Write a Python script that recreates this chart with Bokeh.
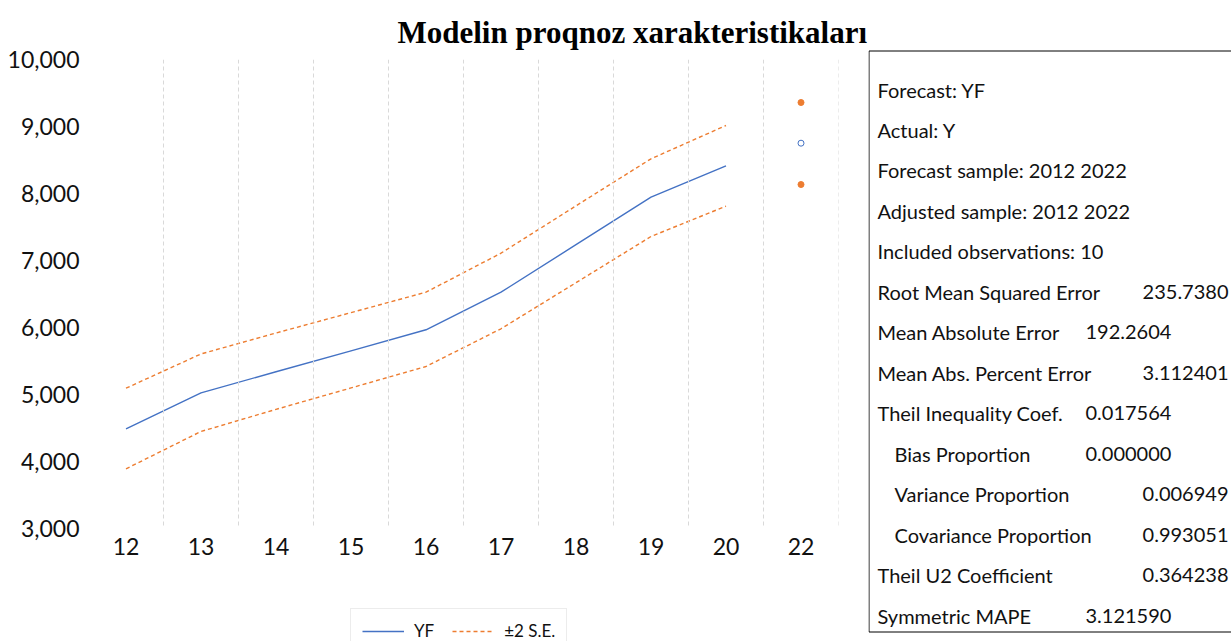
from bokeh.plotting import figure
from bokeh.layouts import row, column
from bokeh.models import (Span, Legend, LegendItem, FixedTicker,
                          NumeralTickFormatter, FactorRange, Range1d, ColumnDataSource)
from bokeh.core.properties import value
from bokeh.embed import file_html
from bokeh.resources import INLINE

# ---- data ----
categories = ["12", "13", "14", "15", "16", "17", "18", "19", "20", "22"]
line_cats = ["12", "13", "14", "15", "16", "17", "18", "19", "20"]
yf = [4488, 5025, 5339, 5652, 5966, 6527, 7236, 7945, 8413]
upper = [5094, 5605, 5918, 6222, 6527, 7109, 7816, 8518, 9015]
lower = [3891, 4448, 4778, 5098, 5418, 5981, 6669, 7358, 7811]
point_cat = ["22"]
point_yf = [8751]
point_upper = [9358]
point_lower = [8134]
y_ticks = [3000, 4000, 5000, 6000, 7000, 8000, 9000, 10000]

title_text = "Modelin proqnoz xarakteristikaları"
legend_labels = ["YF", "±2 S.E."]
stat_labels = [
    "Forecast: YF",
    "Actual: Y",
    "Forecast sample: 2012 2022",
    "Adjusted sample: 2012 2022",
    "Included observations: 10",
    "Root Mean Squared Error",
    "Mean Absolute Error",
    "Mean Abs. Percent Error",
    "Theil Inequality Coef.",
    "Bias Proportion",
    "Variance Proportion",
    "Covariance Proportion",
    "Theil U2 Coefficient",
    "Symmetric MAPE",
]
stat_values = ["", "", "", "", "", "235.7380", "192.2604", "3.112401", "0.017564",
               "0.000000", "0.006949", "0.993051", "0.364238", "3.121590"]

# ---- layout (positions, not data) ----
stat_indent = [0, 0, 0, 0, 0, 0, 0, 0, 0, 1, 1, 1, 0, 0]
stat_value_col = [0, 0, 0, 0, 0, 1, 0, 1, 0, 0, 1, 1, 1, 0]

BLUE = "#4472C4"
ORANGE = "#ED7D31"
FONT = "Lato"
TXT = "#111111"
NAN = float("nan")

TOTAL_W, H = 1231, 641
MAIN_W = 868
MAIN_H = 605
L, T, FW, FH = 88, 59, 750, 469


def bare(fig):
    fig.outline_line_color = None
    fig.xgrid.grid_line_color = None
    fig.ygrid.grid_line_color = None
    fig.frame_align = False


p = figure(width=MAIN_W, height=MAIN_H,
           x_range=FactorRange(*categories, range_padding=0),
           y_range=Range1d(3000, 10000),
           output_backend="svg", toolbar_location=None,
           min_border_left=L, min_border_right=MAIN_W - L - FW,
           min_border_top=T, min_border_bottom=MAIN_H - T - FH)
bare(p)

p.title.text = title_text
p.title.text_font = "Liberation Serif"
p.title.text_font_style = "bold"
p.title.text_font_size = "31px"
p.title.text_color = "#000000"
p.title.align = "left"
p.title.offset = 397 - L
p.title.standoff = 20

for ax in (p.xaxis[0], p.yaxis[0]):
    ax.axis_line_color = None
    ax.major_tick_line_color = None
    ax.minor_tick_line_color = None
    ax.major_tick_out = 0
    ax.major_tick_in = 0
    ax.major_label_text_font = FONT
    ax.major_label_text_font_size = "23px"
    ax.major_label_text_color = TXT
p.yaxis[0].ticker = FixedTicker(ticks=y_ticks)
p.yaxis[0].formatter = NumeralTickFormatter(format="0,0")
p.yaxis[0].major_label_standoff = 9
p.xaxis[0].major_label_standoff = 9

# category boundary gridlines
for i in range(1, len(categories) + 1):
    p.add_layout(Span(location=i, dimension="height", line_color="#D9D9D9",
                      line_dash="4 3", line_width=1))

p.line(x=line_cats, y=yf, line_color=BLUE, line_width=1.4)
p.line(x=line_cats, y=upper, line_color=ORANGE, line_width=1.4, line_dash="4 3")
p.line(x=line_cats, y=lower, line_color=ORANGE, line_width=1.4, line_dash="4 3")
p.scatter(x=point_cat, y=point_upper, size=6, fill_color=ORANGE, line_color=ORANGE)
p.scatter(x=point_cat, y=point_lower, size=6, fill_color=ORANGE, line_color=ORANGE)
p.scatter(x=point_cat, y=point_yf, size=6, fill_color="white", line_color=BLUE, line_width=1)

# ---- legend strip under the chart (legend proxies hold no visible data) ----
LEG_H = H - MAIN_H
lg = figure(width=MAIN_W, height=LEG_H, x_range=Range1d(0, 1), y_range=Range1d(0, 1),
            output_backend="svg", toolbar_location=None, min_border=0,
            x_axis_location=None, y_axis_location=None)
bare(lg)
lg_yf = lg.line(x=[NAN, NAN], y=[NAN, NAN], line_color=BLUE, line_width=1.4)
lg_se = lg.line(x=[NAN, NAN], y=[NAN, NAN], line_color=ORANGE, line_width=1.4, line_dash="4 3")
legend = Legend(items=[LegendItem(label=legend_labels[0], renderers=[lg_yf]),
                       LegendItem(label=legend_labels[1], renderers=[lg_se])],
                orientation="horizontal", location=(350, -12),
                label_text_font=FONT, label_text_font_size="17px",
                label_text_color=TXT,
                border_line_color="#D9D9D9", border_line_width=1,
                glyph_width=42, label_standoff=10, spacing=18, padding=11, margin=0,
                background_fill_alpha=0)
lg.add_layout(legend)

# ---- statistics box (pixel canvas) ----
SW = TOTAL_W - MAIN_W
s = figure(width=SW, height=H, x_range=Range1d(0, SW), y_range=Range1d(H, 0),
           output_backend="svg", toolbar_location=None,
           min_border=0, x_axis_location=None, y_axis_location=None)
bare(s)

s.quad(left=[0.5], right=[SW + 20], top=[50.5], bottom=[631.5],
       fill_color=None, line_color="#000000", line_width=1)

y0, dy = 89, (615 - 89) / 13
rows_y = [y0 + i * dy for i in range(len(stat_labels))]
lab_src = ColumnDataSource(dict(
    x=[9 + 17 * k for k in stat_indent], y=rows_y, text=stat_labels))
s.text(x="x", y="y", text="text", source=lab_src, text_font=value(FONT),
       text_font_size="20px", text_baseline="middle", text_color=TXT)

idx0 = [i for i, v in enumerate(stat_values) if v and not stat_value_col[i]]
idx1 = [i for i, v in enumerate(stat_values) if v and stat_value_col[i]]
val0 = ColumnDataSource(dict(x=[217] * len(idx0), y=[rows_y[i] for i in idx0],
                             text=[stat_values[i] for i in idx0]))
val1 = ColumnDataSource(dict(x=[360] * len(idx1), y=[rows_y[i] for i in idx1],
                             text=[stat_values[i] for i in idx1]))
s.text(x="x", y="y", text="text", source=val0, text_font=value(FONT),
       text_font_size="20px", text_baseline="middle", text_color=TXT)
s.text(x="x", y="y", text="text", source=val1, text_font=value(FONT),
       text_font_size="20px", text_baseline="middle", text_align="right", text_color=TXT)

layout = row(column(p, lg), s)
open("out.html", "w").write(file_html(layout, INLINE))
